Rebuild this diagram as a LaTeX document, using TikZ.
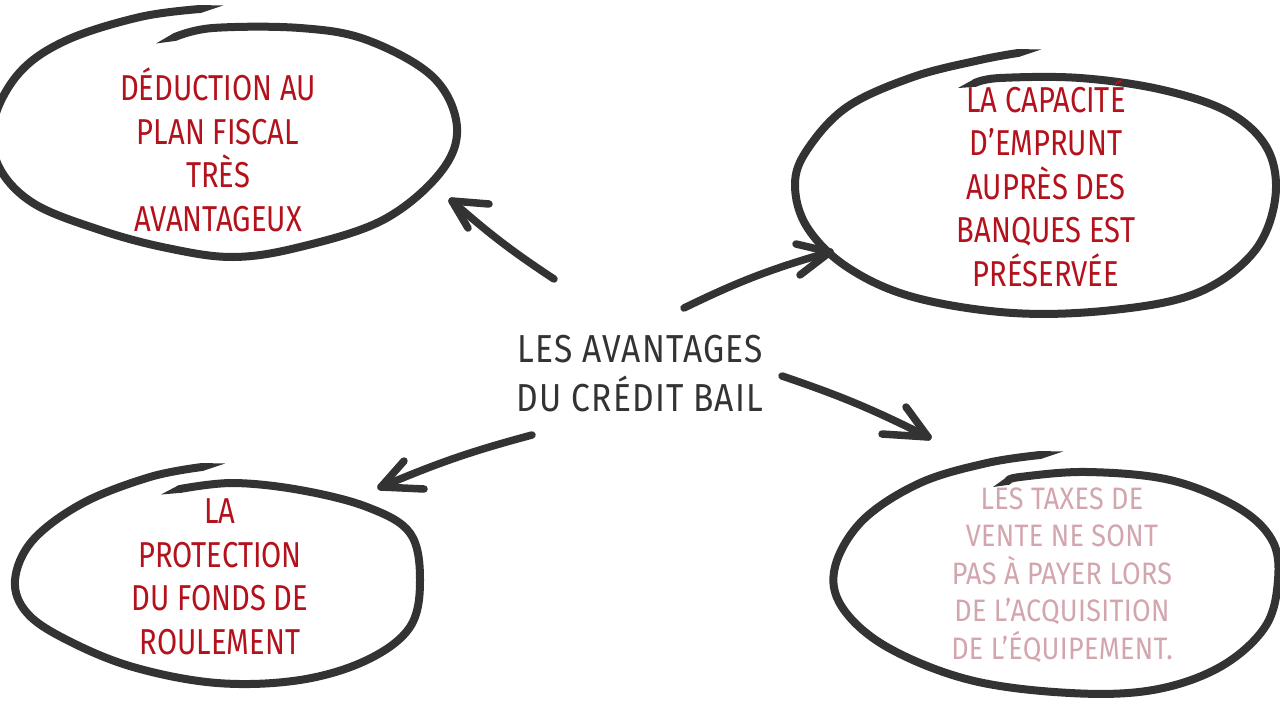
\documentclass[tikz,border=0pt]{standalone}
\usepackage{fontspec}
\setmainfont{Fira Sans}[FakeStretch=0.81]
\newfontfamily\centerfam{Fira Sans}[FakeStretch=0.86,LetterSpace=3]
\newfontfamily\pinkfam{Fira Sans}[FakeStretch=0.87,LetterSpace=1]
\definecolor{ink}{HTML}{333333}
\definecolor{redtxt}{HTML}{B3121C}
\definecolor{pinktxt}{HTML}{D3A6AE}
\begin{document}
\begin{tikzpicture}[x=1pt,y=-1pt,
  ring/.style={draw=ink,line width=8pt,line cap=round,line join=round},
  taper/.style={fill=ink,draw=none},
  arr/.style={draw=ink,line width=7.5pt,line cap=round,line join=round},
  redlbl/.style={text=redtxt,align=center,font=\fontsize{36}{43.5}\selectfont,inner sep=0pt},
  pinklbl/.style={text=pinktxt,align=center,font=\pinkfam\fontsize{31}{37.5}\selectfont,inner sep=0pt},
  mainlbl/.style={text=ink,align=center,font=\centerfam\fontsize{39}{49}\selectfont,inner sep=0pt}]
\useasboundingbox[fill=white] (0,0) rectangle (1280,720);

% rings
\draw[ring] plot[smooth,tension=0.6] coordinates {(200,9) (140,17) (67,40) (20,72) (-6,120) (-2,165) (33,203) (100,230) (167,248) (233,257) (300,247) (383,220) (440,173) (457,127) (433,77) (367,40) (300,28) (213,28) (175,37)};
\fill[taper] (200.6,13) -- (223,5.5) -- (199.4,5) -- cycle;
\fill[taper] (176.3,40.8) -- (156,43.5) -- (173.7,33.2) -- cycle;
\draw[ring] plot[smooth,tension=0.6] coordinates {(1018,53) (980,60) (913,77) (847,107) (807,150) (795,185) (807,227) (847,267) (913,297) (1013,313) (1113,310) (1197,293) (1253,253) (1275,200) (1268,150) (1230,113) (1163,90) (1080,78) (1000,78) (975,83)};
\fill[taper] (1018.6,57) -- (1041,49.5) -- (1017.4,49) -- cycle;
\fill[taper] (976.1,86.8) -- (958,88) -- (973.9,79.2) -- cycle;
\draw[ring] plot[smooth,tension=0.6] coordinates {(202,467) (150,477) (83,503) (33,540) (15,580) (27,613) (67,640) (133,667) (217,683) (300,680) (367,660) (410,627) (420,580) (410,533) (367,507) (300,490) (233,483) (180,489)};
\fill[taper] (202.6,471) -- (225,463.5) -- (201.4,463) -- cycle;
\fill[taper] (181.3,492.8) -- (161,494.5) -- (178.7,485.2) -- cycle;
\draw[ring] plot[smooth,tension=0.6] coordinates {(1040,455) (987,463) (920,483) (863,520) (835,567) (842,607) (887,647) (970,680) (1070,693) (1153,690) (1220,667) (1265,627) (1278,580) (1272,540) (1237,507) (1170,480) (1087,472) (1020,477) (1008,481)};
\fill[taper] (1040.6,459) -- (1063,451.5) -- (1039.4,451) -- cycle;
\fill[taper] (1009.5,484.7) -- (993,487) -- (1006.5,477.3) -- cycle;

% texts
\node[mainlbl] (c) at (640,374) {LES AVANTAGES\\DU CRÉDIT BAIL};
\node[redlbl] (tl) at (218,150) {DÉDUCTION AU\\PLAN FISCAL\\TRÈS\\AVANTAGEUX};
\node[redlbl] (tr) at (1046,183) {LA CAPACITÉ\\D’EMPRUNT\\AUPRÈS DES\\BANQUES EST\\PRÉSERVÉE};
\node[redlbl] (bl) at (220,577) {LA\\PROTECTION\\DU FONDS DE\\ROULEMENT};
\node[pinklbl] (br) at (1062,575) {LES TAXES DE\\VENTE NE SONT\\PAS À PAYER LORS\\DE L’ACQUISITION\\DE L’ÉQUIPEMENT.};

% arrows
\coordinate (a1s) at (554,279); \coordinate (a1e) at (452,201);
\coordinate (a2s) at (684,308); \coordinate (a2e) at (830,252);
\coordinate (a3s) at (782,376); \coordinate (a3e) at (928,437);
\coordinate (a4s) at (532,435); \coordinate (a4e) at (381,487);
\draw[arr] (a1s) to[bend left=4] (a1e);
\draw[arr] (489,204) -- (a1e) -- (468,228);
\draw[arr] (a2s) to[bend left=5] (a2e);
\draw[arr] (796,244) -- (a2e) -- (800,275);
\draw[arr] (a3s) to[bend left=4] (a3e);
\draw[arr] (906,407) -- (a3e) -- (882,434);
\draw[arr] (a4s) to[bend right=4] (a4e);
\draw[arr] (404,461) -- (a4e) -- (424,489);
\end{tikzpicture}
\end{document}
